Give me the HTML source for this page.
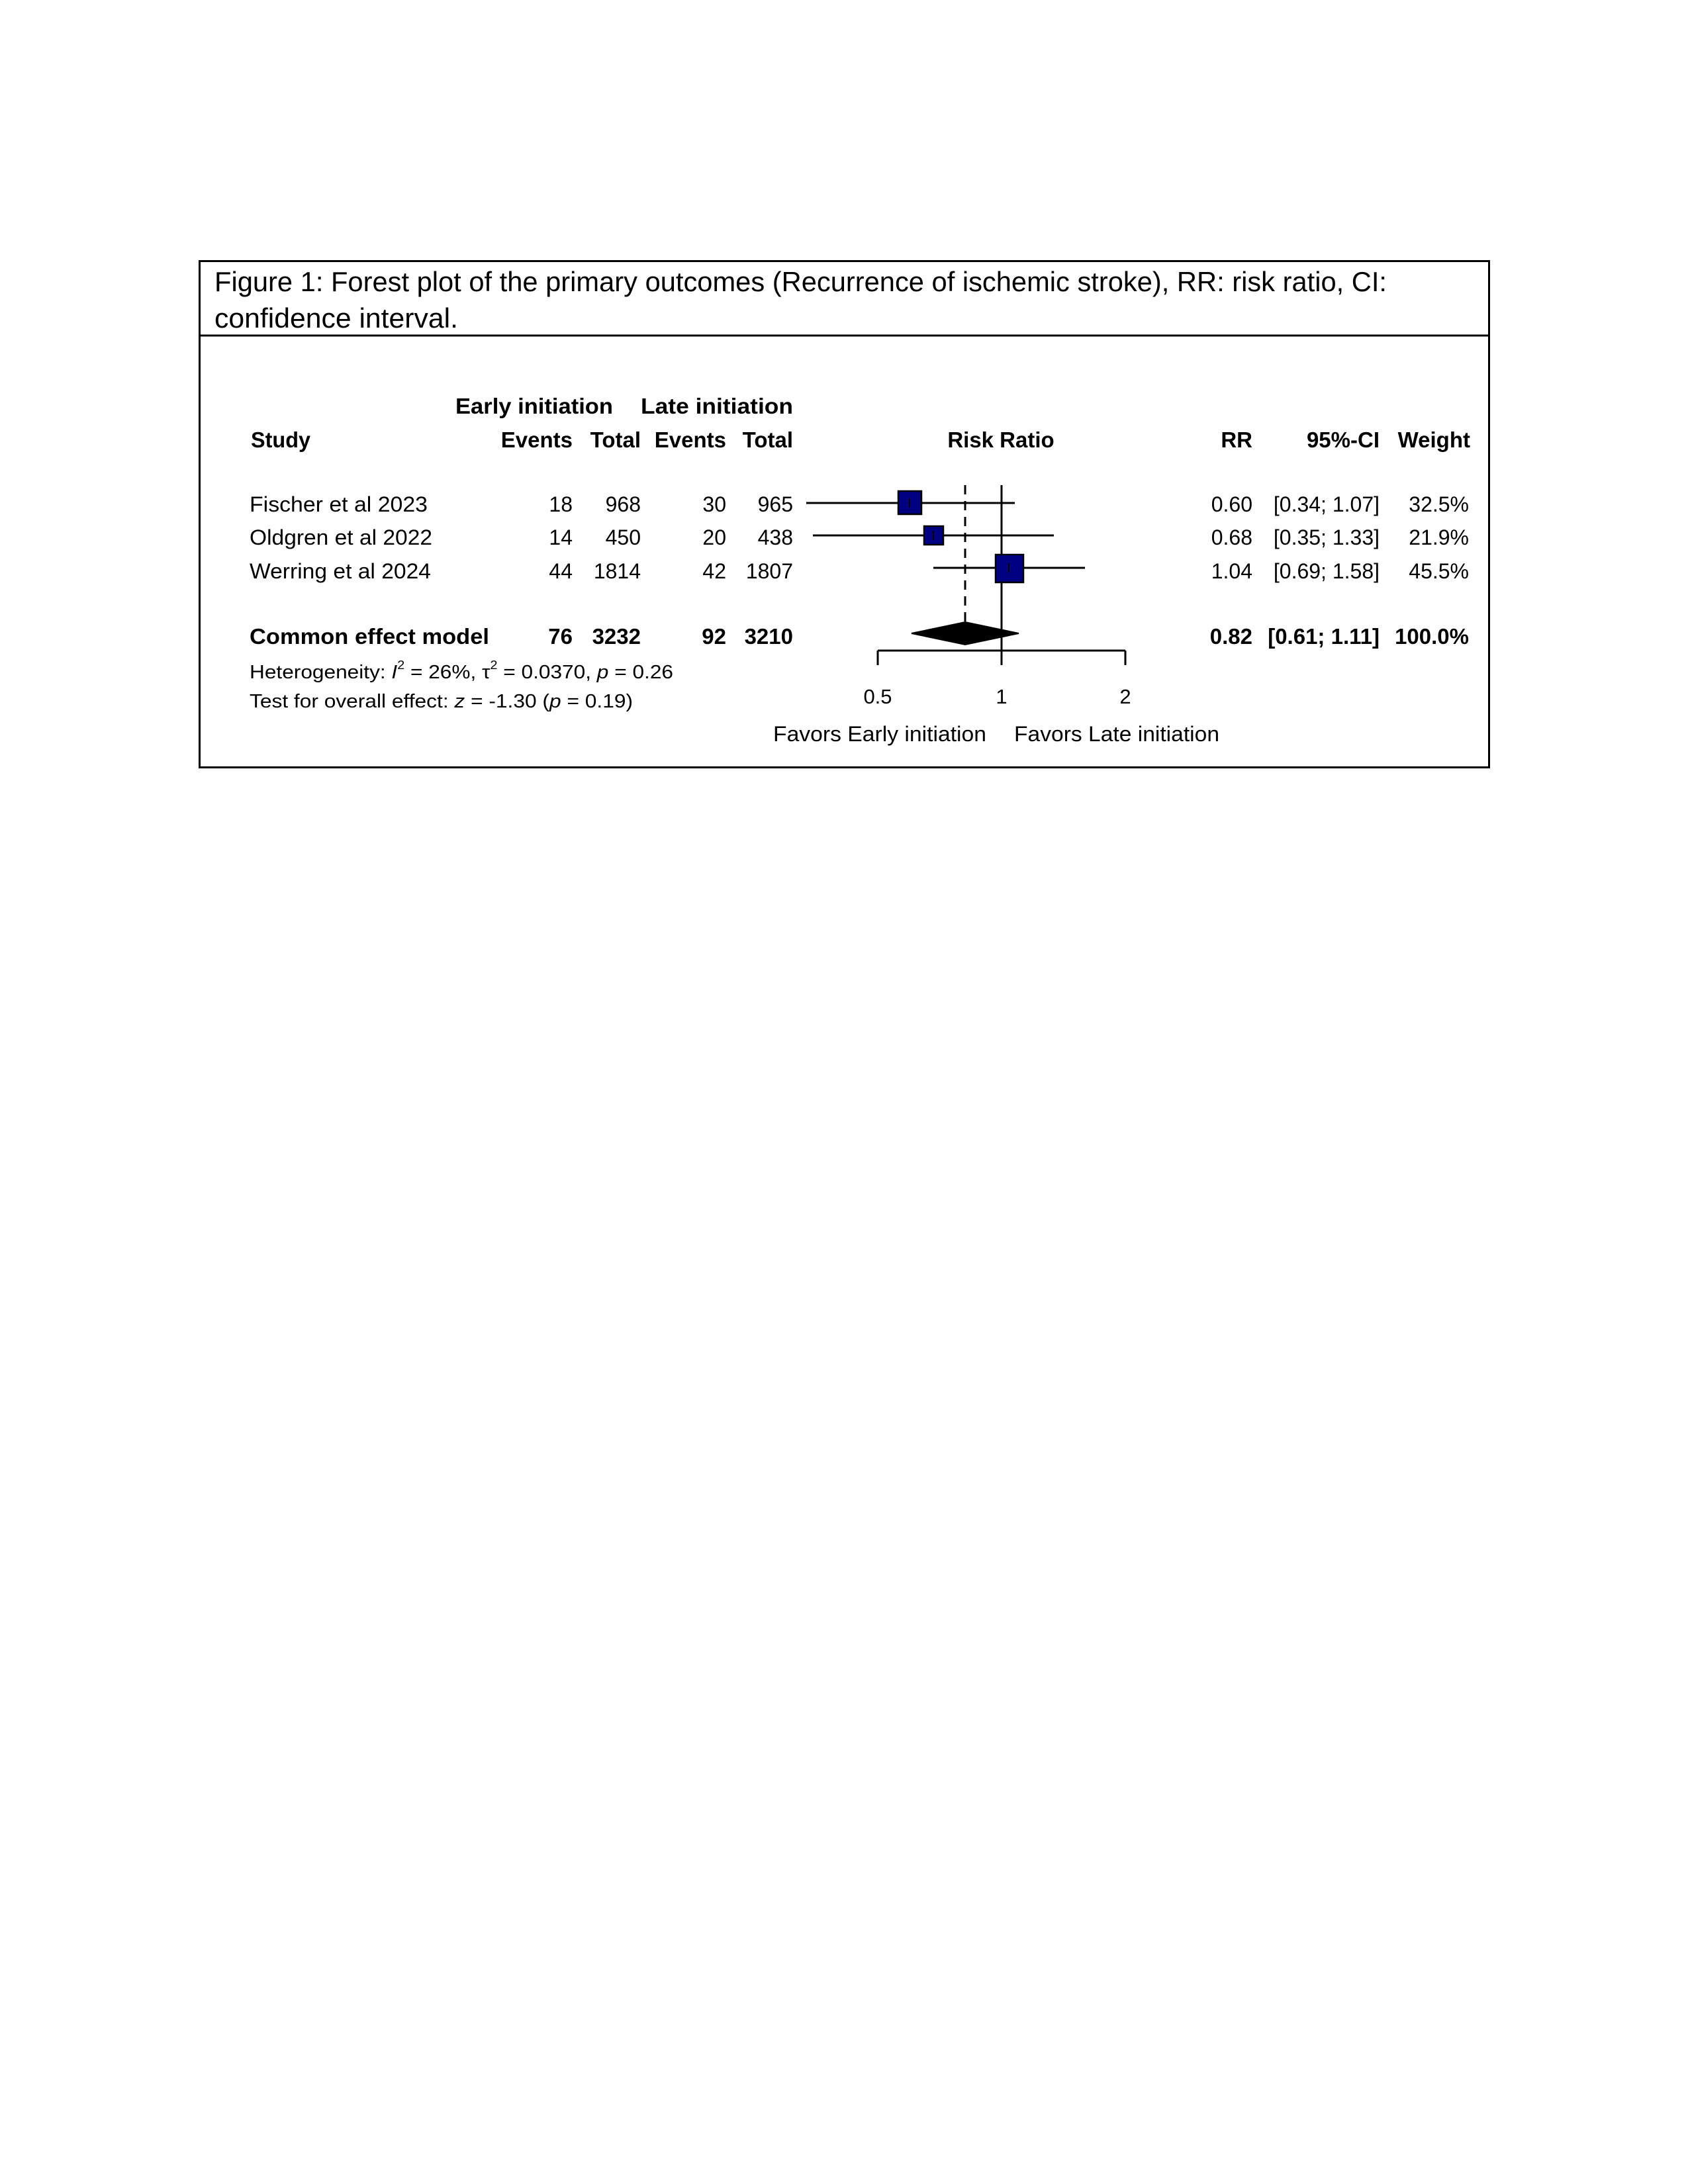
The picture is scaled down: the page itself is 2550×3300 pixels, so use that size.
<!DOCTYPE html>
<html><head><meta charset="utf-8"><style>
html,body{margin:0;padding:0;background:#fff;}
svg{display:block;}
text{font-family:"Liberation Sans",Arial,sans-serif;fill:#000;}
</style></head><body>
<svg width="2550" height="3300" viewBox="0 0 2550 3300" xmlns="http://www.w3.org/2000/svg">
<rect x="0" y="0" width="2550" height="3300" fill="#fff"/>
<!-- frame -->
<rect x="301.5" y="394.5" width="1948" height="765" fill="none" stroke="#000" stroke-width="3"/>
<line x1="301" y1="507" x2="2250" y2="507" stroke="#000" stroke-width="3"/>
<!-- title -->
<text x="324" y="440" font-size="42" textLength="1771" lengthAdjust="spacingAndGlyphs">Figure 1: Forest plot of the primary outcomes (Recurrence of ischemic stroke), RR: risk ratio, CI:</text>
<text x="324" y="495" font-size="42" textLength="368" lengthAdjust="spacingAndGlyphs">confidence interval.</text>

<!-- headers -->
<g font-weight="bold" font-size="33">
<text x="688" y="625" textLength="238" lengthAdjust="spacingAndGlyphs">Early initiation</text>
<text x="968" y="625" textLength="230" lengthAdjust="spacingAndGlyphs">Late initiation</text>
<text x="379" y="676" textLength="90" lengthAdjust="spacingAndGlyphs">Study</text>
<text x="865" y="676" text-anchor="end">Events</text>
<text x="968" y="676" text-anchor="end">Total</text>
<text x="1097" y="676" text-anchor="end">Events</text>
<text x="1198" y="676" text-anchor="end">Total</text>
<text x="1512" y="676" text-anchor="middle">Risk Ratio</text>
<text x="1892" y="676" text-anchor="end">RR</text>
<text x="2084" y="676" text-anchor="end">95%-CI</text>
<text x="2221" y="676" text-anchor="end">Weight</text>
</g>

<!-- rows -->
<g font-size="32">
<text x="377" y="773" textLength="269" lengthAdjust="spacingAndGlyphs">Fischer et al 2023</text>
<text x="377" y="823" textLength="276" lengthAdjust="spacingAndGlyphs">Oldgren et al 2022</text>
<text x="377" y="874" textLength="274" lengthAdjust="spacingAndGlyphs">Werring et al 2024</text>
<g text-anchor="end">
<text x="865" y="773">18</text><text x="968" y="773">968</text><text x="1097" y="773">30</text><text x="1198" y="773">965</text>
<text x="865" y="823">14</text><text x="968" y="823">450</text><text x="1097" y="823">20</text><text x="1198" y="823">438</text>
<text x="865" y="874">44</text><text x="968" y="874">1814</text><text x="1097" y="874">42</text><text x="1198" y="874">1807</text>
<text x="1892" y="773">0.60</text><text x="2084" y="773">[0.34; 1.07]</text><text x="2219" y="773">32.5%</text>
<text x="1892" y="823">0.68</text><text x="2084" y="823">[0.35; 1.33]</text><text x="2219" y="823">21.9%</text>
<text x="1892" y="874">1.04</text><text x="2084" y="874">[0.69; 1.58]</text><text x="2219" y="874">45.5%</text>
</g>
</g>
<g font-size="33" font-weight="bold">
<text x="377" y="973" textLength="362" lengthAdjust="spacingAndGlyphs">Common effect model</text>
<g text-anchor="end">
<text x="865" y="973">76</text><text x="968" y="973">3232</text><text x="1097" y="973">92</text><text x="1198" y="973">3210</text>
<text x="1892" y="973">0.82</text><text x="2084" y="973">[0.61; 1.11]</text><text x="2219" y="973">100.0%</text>
</g>
</g>
<g font-size="29">
<text x="377" y="1025" textLength="640" lengthAdjust="spacingAndGlyphs">Heterogeneity: <tspan font-style="italic">I</tspan><tspan font-size="18" dy="-14">2</tspan><tspan dy="14"> = 26%, τ</tspan><tspan font-size="18" dy="-14">2</tspan><tspan dy="14"> = 0.0370, </tspan><tspan font-style="italic">p</tspan> = 0.26</text>
<text x="377" y="1069" textLength="579" lengthAdjust="spacingAndGlyphs">Test for overall effect: <tspan font-style="italic">z</tspan> = -1.30 (<tspan font-style="italic">p</tspan> = 0.19)</text>
</g>

<!-- plot -->
<g stroke="#000" stroke-width="3" fill="none">
<line x1="1513" y1="733" x2="1513" y2="1005"/>
<line x1="1458" y1="733" x2="1458" y2="945" stroke-dasharray="14,10"/>
<line x1="1326" y1="983" x2="1700" y2="983"/>
<line x1="1326" y1="983" x2="1326" y2="1005"/>
<line x1="1700" y1="983" x2="1700" y2="1005"/>
<line x1="1218" y1="760" x2="1533" y2="760"/>
<line x1="1228" y1="809" x2="1592" y2="809"/>
<line x1="1410" y1="858" x2="1639" y2="858"/>
</g>
<g stroke="#000" stroke-width="2.5" fill="#000080">
<rect x="1357" y="742" width="35" height="35"/>
<rect x="1396" y="795" width="29" height="28"/>
<rect x="1504" y="838" width="42" height="42"/>
</g>
<g stroke="#000" stroke-width="2">
<line x1="1374" y1="753" x2="1374" y2="767"/>
<line x1="1410" y1="802" x2="1410" y2="816"/>
<line x1="1524" y1="851" x2="1524" y2="865"/>
</g>
<polygon points="1377,957 1458,940 1539,957 1458,974" fill="#000" stroke="#000" stroke-width="2"/>

<g font-size="31" text-anchor="middle">
<text x="1326" y="1063">0.5</text>
<text x="1513" y="1063">1</text>
<text x="1700" y="1063">2</text>
</g>
<g font-size="32">
<text x="1168" y="1120" textLength="322" lengthAdjust="spacingAndGlyphs">Favors Early initiation</text>
<text x="1532" y="1120" textLength="310" lengthAdjust="spacingAndGlyphs">Favors Late initiation</text>
</g>
</svg>
</body></html>
